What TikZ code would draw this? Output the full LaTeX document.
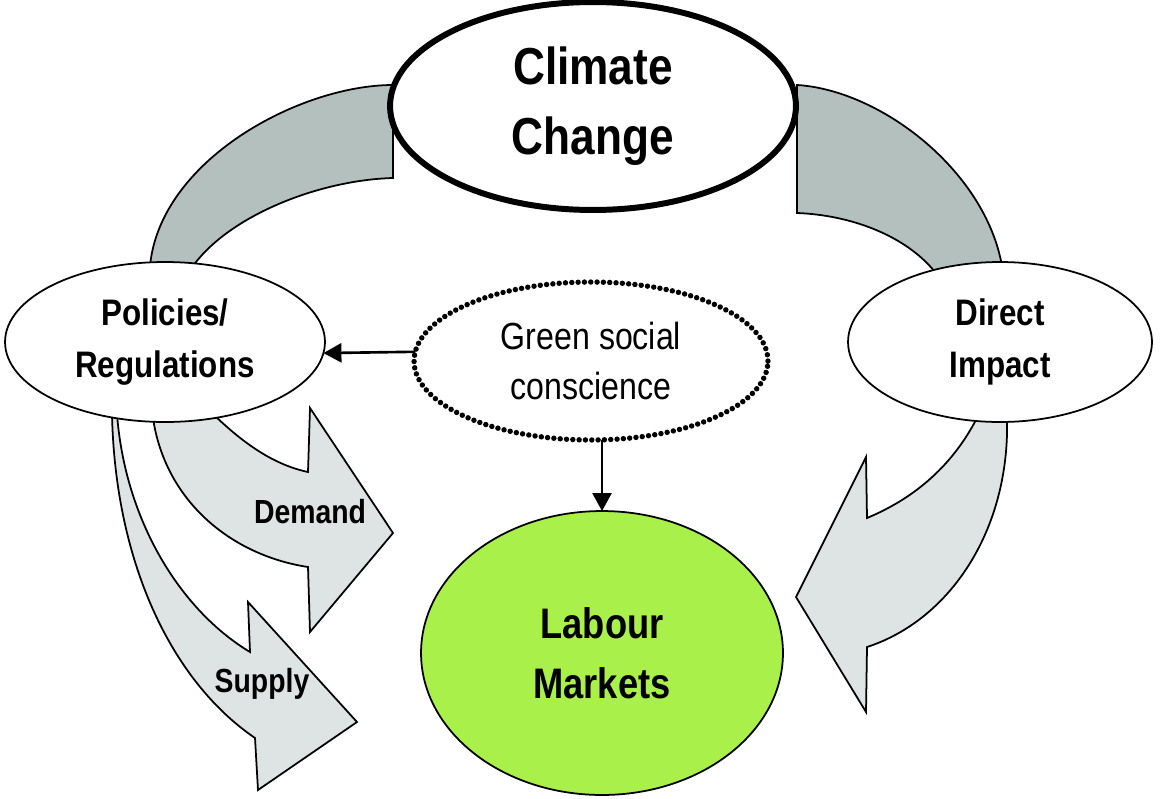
\documentclass[tikz,border=0pt]{standalone}
\usepackage{fontspec}
\setmainfont{Liberation Sans}[FakeStretch=0.85]
\usepackage{xcolor}
\usepackage{tikz}
\usetikzlibrary{arrows.meta, shapes.geometric, backgrounds}
\definecolor{bandgray}{RGB}{180,192,190}
\definecolor{arrowgray}{RGB}{221,228,227}
\definecolor{labourgreen}{RGB}{170,240,75}

\begin{document}
\begin{tikzpicture}[x=0.02cm, y=-0.02cm,
  oval/.style={draw, ellipse, fill=white, inner sep=0pt, outer sep=0pt,
               align=center, line width=1pt},
  bigfont/.style={font=\fontsize{29.6}{39.8}\selectfont\bfseries},
  midfont/.style={font=\fontsize{21}{30}\selectfont\bfseries},
  band/.style={draw, line width=1pt, fill=bandgray, line join=miter},
  flowarrow/.style={draw, line width=1pt, fill=arrowgray, line join=miter},
  arr/.style={-{Triangle[length=0.36cm, width=0.38cm]}, line width=1.5pt}
]
  \useasboundingbox (0,0) rectangle (1175,798);

  \node[oval, bigfont, line width=3.4pt, minimum width=8.12cm,
        minimum height=4.16cm] (climate) at (593,106) {Climate\\Change};
  \node[oval, midfont, minimum width=6.4cm, minimum height=3.2cm]
        (policies) at (165,342) {Policies/\\Regulations};
  \node[oval, midfont, minimum width=6.08cm, minimum height=3.2cm]
        (direct) at (1000,342) {Direct\\Impact};
  \node[oval, font=\fontsize{21.5}{28}\selectfont, line width=3.1pt,
        dash pattern=on 0pt off 3.6pt, line cap=round,
        minimum width=7.08cm, minimum height=3.16cm]
        (green) at (591,361) {Green social\\conscience};
  \node[oval, font=\fontsize{24.3}{34}\selectfont\bfseries,
        fill=labourgreen, minimum width=7.24cm, minimum height=5.68cm]
        (labour) at (602,653) {Labour\\Markets};

  \begin{scope}[on background layer]
    \fill[white] (0,0) rectangle (1175,798);
    \draw[band] (393,85) .. controls (300,85) and (160,160) .. (150,266)
      -- (193,266) .. controls (230,215) and (320,180) .. (393,178) -- cycle;
    \draw[band] (797,85) .. controls (880,90) and (985,170) .. (1002,266)
      -- (935,272) .. controls (905,235) and (850,215) .. (797,213) -- cycle;
    \draw[flowarrow] (153,418) .. controls (165,500) and (230,555) .. (308,567)
      -- (310,632) -- (393,533) -- (310,408) -- (308,472)
      .. controls (275,465) and (245,445) .. (213,414) -- cycle;
    \draw[flowarrow] (112,414) .. controls (115,560) and (170,680) .. (255,738)
      -- (258,790) -- (357,722) -- (248,602) -- (250,652)
      .. controls (180,610) and (125,520) .. (117,414) -- cycle;
    \draw[flowarrow] (1007,418) .. controls (1010,530) and (950,620) .. (867,647)
      -- (866,712) -- (796,597) -- (866,457) -- (867,518)
      .. controls (910,500) and (950,470) .. (977,418) -- cycle;
  \end{scope}

  \node[font=\fontsize{19}{22}\selectfont\bfseries] (demand) at (310,512) {Demand};
  \node[font=\fontsize{19}{22}\selectfont\bfseries] (supply) at (262,684) {Supply};

  \draw[arr] (green.177) -- (policies.-4);
  \draw[arr] (green.south -| labour.north) -- (labour.north);
\end{tikzpicture}
\end{document}
